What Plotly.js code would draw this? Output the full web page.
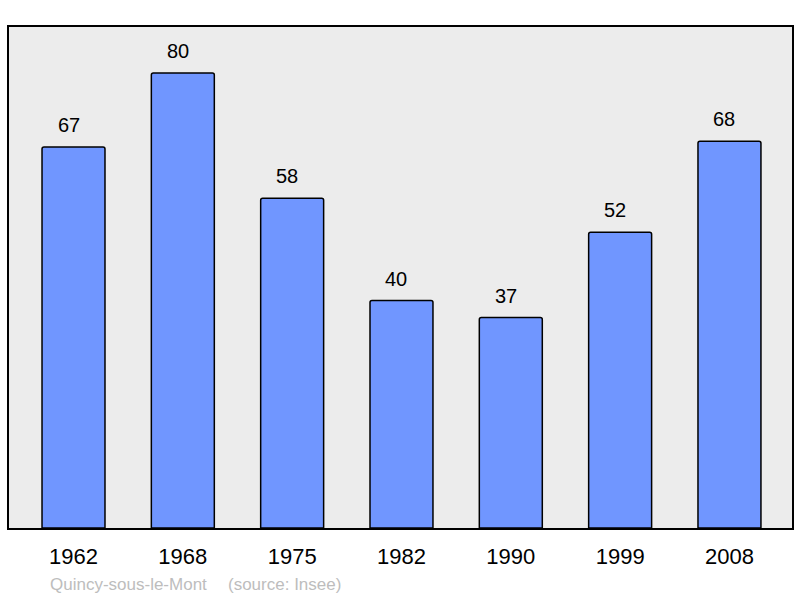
<!DOCTYPE html>
<html>
<head>
<meta charset="utf-8">
<script src="https://cdn.plot.ly/plotly-3.0.1.min.js"></script>
<style>html,body{margin:0;padding:0;background:#fff}#chart{width:800px;height:598px}</style>
</head>
<body>
<div id="chart"></div>
<script>
const years = ["1962", "1968", "1975", "1982", "1990", "1999", "2008"];
const population = [67, 80, 58, 40, 37, 52, 68];
const place = "Quincy-sous-le-Mont";
const source = "(source: Insee)";

const trace = {
  type: "bar",
  x: years,
  y: population,
  width: 0.576,
  marker: { color: "#7096ff", line: { color: "#000", width: 1.5 }, cornerradius: 2 },
  hoverinfo: "none"
};

const annotations = years.map((yr, i) => ({
  x: i, y: population[i], xref: "x", yref: "y",
  text: String(population[i]), showarrow: false,
  yanchor: "bottom", yshift: 9, xshift: -5,
  font: { family: "Liberation Sans, Arial, sans-serif", size: 20, color: "#000" }
}));
annotations.push({
  xref: "paper", yref: "paper", x: (48 - 9) / 783, y: -0.112, xanchor: "left", yanchor: "middle",
  text: place, showarrow: false,
  font: { family: "Liberation Sans, Arial, sans-serif", size: 17, color: "#bdbdbd" }
});
annotations.push({
  xref: "paper", yref: "paper", x: (226 - 9) / 783, y: -0.112, xanchor: "left", yanchor: "middle",
  text: source, showarrow: false,
  font: { family: "Liberation Sans, Arial, sans-serif", size: 17, color: "#bdbdbd" }
});

const layout = {
  width: 800, height: 598,
  margin: { l: 9, r: 8, t: 27, b: 70, pad: 0 },
  paper_bgcolor: "#fff",
  plot_bgcolor: "#ececec",
  showlegend: false,
  xaxis: {
    type: "category", range: [-0.59, 6.572],
    showline: true, mirror: true, linecolor: "#000", linewidth: 2,
    showgrid: false, zeroline: false, ticks: "", ticklabelstandoff: 8,
    tickfont: { family: "Liberation Sans, Arial, sans-serif", size: 22, color: "#000" },
    fixedrange: true
  },
  yaxis: {
    range: [0, 88.09],
    showline: true, mirror: true, linecolor: "#000", linewidth: 2,
    showgrid: false, zeroline: false, showticklabels: false, ticks: "",
    fixedrange: true
  },
  annotations: annotations
};

Plotly.newPlot("chart", [trace], layout, { displayModeBar: false, staticPlot: true });
</script>
</body>
</html>
